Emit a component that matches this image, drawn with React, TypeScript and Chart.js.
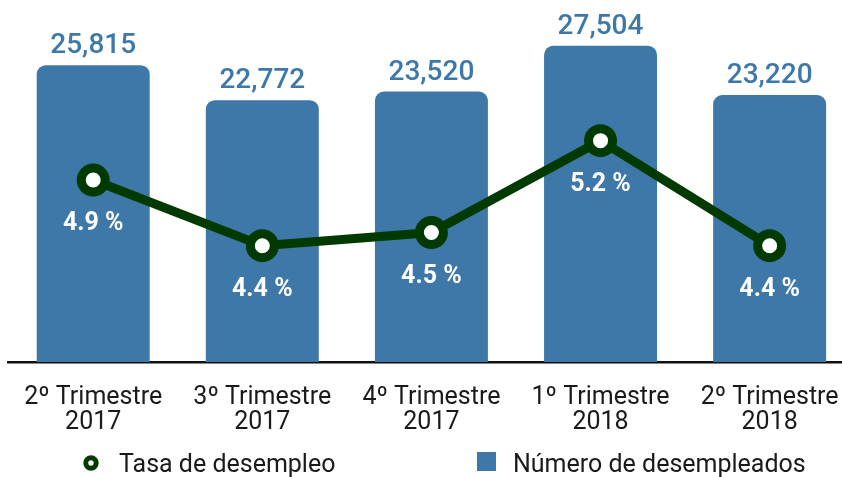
import React, { useEffect, useRef } from 'react';
import { Chart, registerables } from 'chart.js';

Chart.register(...registerables);

// ---- Data ----
const categories: string[][] = [
  ['2º Trimestre', '2017'],
  ['3º Trimestre', '2017'],
  ['4º Trimestre', '2017'],
  ['1º Trimestre', '2018'],
  ['2º Trimestre', '2018'],
];
const desempleados: number[] = [25815, 22772, 23520, 27504, 23220];
const tasa: number[] = [4.9, 4.4, 4.5, 5.2, 4.4];
const seriesNames: string[] = ['Tasa de desempleo', 'Número de desempleados'];

// ---- Styles ----
const BAR_COLOR = '#3e78a8';
const LINE_COLOR = '#003a00';
const TEXT_COLOR = '#1a1a1a';
const FONT = 'Roboto';

const zeroPad = (s: any) => {
  s.paddingLeft = 0;
  s.paddingRight = 0;
  s.paddingTop = 0;
  s.paddingBottom = 0;
};

const valueLabelsPlugin = {
  id: 'valueLabels',
  afterDatasetsDraw(chart: any) {
    const ctx = chart.ctx as CanvasRenderingContext2D;
    const lineMeta = chart.getDatasetMeta(0);
    const barMeta = chart.getDatasetMeta(1);
    ctx.save();
    ctx.textAlign = 'center';
    ctx.textBaseline = 'alphabetic';
    ctx.font = `500 28px ${FONT}`;
    ctx.fillStyle = BAR_COLOR;
    barMeta.data.forEach((el: any, i: number) => {
      ctx.fillText(desempleados[i].toLocaleString('en-US'), el.x, el.y - 12);
    });
    ctx.font = `bold 25px ${FONT}`;
    ctx.fillStyle = '#ffffff';
    lineMeta.data.forEach((el: any, i: number) => {
      ctx.fillText(tasa[i].toFixed(1) + ' %', el.x, el.y + 50);
    });
    ctx.restore();
  },
};

const legendPlugin = {
  id: 'customLegend',
  afterDraw(chart: any) {
    const ctx = chart.ctx as CanvasRenderingContext2D;
    const ds = chart.data.datasets;
    ctx.save();
    ctx.beginPath();
    ctx.arc(91, 463, 5.2, 0, Math.PI * 2);
    ctx.fillStyle = '#ffffff';
    ctx.fill();
    ctx.lineWidth = 5;
    ctx.strokeStyle = LINE_COLOR;
    ctx.stroke();
    ctx.font = `25px ${FONT}`;
    ctx.fillStyle = TEXT_COLOR;
    ctx.textAlign = 'left';
    ctx.textBaseline = 'alphabetic';
    ctx.fillText(ds[0].label, 119, 472);
    ctx.fillStyle = BAR_COLOR;
    ctx.fillRect(477, 452, 19, 19);
    ctx.fillStyle = TEXT_COLOR;
    ctx.fillText(ds[1].label, 513, 472);
    ctx.restore();
  },
};

export default function App() {
  const canvasRef = useRef<HTMLCanvasElement | null>(null);

  useEffect(() => {
    if (!canvasRef.current) return;
    const chart = new Chart(canvasRef.current, {
      type: 'bar',
      data: {
        labels: categories,
        datasets: [
          {
            type: 'line',
            label: seriesNames[0],
            data: tasa,
            yAxisID: 'y2',
            borderColor: LINE_COLOR,
            borderWidth: 9,
            pointRadius: 12,
            pointBorderWidth: 9,
            pointBackgroundColor: '#ffffff',
            pointBorderColor: LINE_COLOR,
            tension: 0,
            clip: false,
            order: 0,
          } as any,
          {
            type: 'bar',
            label: seriesNames[1],
            data: desempleados,
            yAxisID: 'y',
            backgroundColor: BAR_COLOR,
            borderRadius: { topLeft: 9, topRight: 9, bottomLeft: 0, bottomRight: 0 },
            borderSkipped: 'start',
            categoryPercentage: 1,
            barPercentage: 0.668,
            order: 1,
          } as any,
        ],
      },
      options: {
        responsive: false,
        animation: false,
        devicePixelRatio: 1,
        layout: { autoPadding: false, padding: { left: 8.65, right: 5.8, top: 1, bottom: 19 } },
        plugins: {
          legend: { display: false },
          tooltip: { enabled: false },
        },
        scales: {
          x: {
            offset: true,
            grid: { display: false, drawTicks: false },
            border: { display: true, color: '#111111', width: 2.5 },
            ticks: {
              color: TEXT_COLOR,
              font: { family: FONT, size: 25, lineHeight: 1 },
              padding: 23,
              maxRotation: 0,
              autoSkip: false,
            },
            afterFit: zeroPad,
          },
          y: { display: false, min: 0, max: 31400, ticks: { display: false }, afterFit: zeroPad },
          y2: { display: false, min: 3.514, max: 6.264, ticks: { display: false }, afterFit: zeroPad },
        },
      },
      plugins: [valueLabelsPlugin, legendPlugin],
    });
    return () => chart.destroy();
  }, []);

  return (
    <div
      style={{
        position: 'fixed',
        left: 0,
        top: 0,
        width: 842,
        height: 477,
        overflow: 'hidden',
        background: '#ffffff',
      }}
    >
      <canvas ref={canvasRef} width={860} height={477} style={{ display: 'block' }} />
    </div>
  );
}
